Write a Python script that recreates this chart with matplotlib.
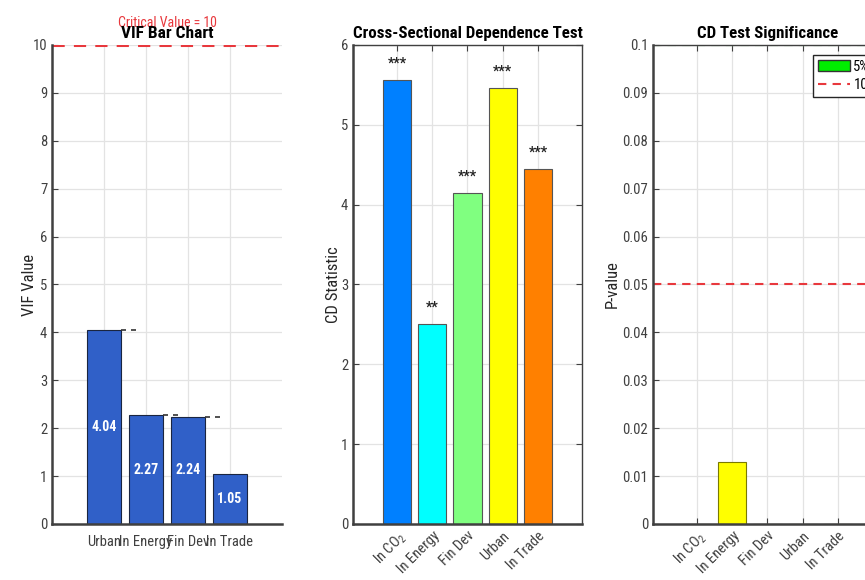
import matplotlib
matplotlib.use("Agg")
import matplotlib.pyplot as plt
from matplotlib import font_manager
from matplotlib.patches import Patch
from matplotlib.lines import Line2D

# the reference text is a condensed Helvetica-like face; take a narrow one if present
cands = ["Liberation Sans Narrow", "Arial Narrow", "Roboto Condensed", "Archivo Narrow",
         "PT Sans Narrow", "Fira Sans Condensed", "IBM Plex Sans Condensed",
         "Encode Sans Condensed", "Barlow Semi Condensed", "Asap Condensed",
         "Sofia Sans Condensed", "Open Sans Condensed"]
weights = {}
for f in font_manager.fontManager.ttflist:
    w = f.weight if isinstance(f.weight, int) else font_manager.weight_dict.get(f.weight, 400)
    weights.setdefault(f.name, set()).add(w)


def pick(bold):
    for c in cands:
        if c in weights:
            if not bold or max(weights[c]) >= 700:
                return c
    return "Liberation Sans"


fam = pick(False)
bfam = pick(True)
plt.rcParams['font.family'] = [fam, 'DejaVu Sans']
plt.rcParams['mathtext.default'] = 'regular'

# ---- data ----
vif_vars = ["Urban", "ln Energy", "Fin Dev", "ln Trade"]
vif_vals = [4.04, 2.27, 2.24, 1.05]
vif_critical = 10

cd_vars = ["ln CO$_2$", "ln Energy", "Fin Dev", "Urban", "ln Trade"]
cd_stats = [5.56, 2.50, 4.14, 5.46, 4.45]
cd_stars = ["***", "**", "***", "***", "***"]
cd_colors = ["#0080ff", "#00ffff", "#80ff80", "#ffff00", "#ff8000"]

p_values = [0.0, 0.013, 0.0, 0.0, 0.0]
sig_5 = 0.05
sig_10 = 0.1

tick_col = "#404040"
grid_col = "#e3e3e3"
bold = dict(family=[bfam, 'DejaVu Sans'], fontweight='bold')

fig = plt.figure(figsize=(8.65, 5.8), dpi=100)


def style(ax, box=True):
    ax.grid(True, color=grid_col, linewidth=0.9)
    ax.set_axisbelow(True)
    ax.tick_params(direction='in', colors=tick_col, labelsize=10.5, length=4,
                   top=box, right=box, labelcolor=tick_col)
    for s in ax.spines.values():
        s.set_color("#404040")
        s.set_linewidth(1.0)
    ax.spines['left'].set_linewidth(1.8)
    ax.spines['bottom'].set_linewidth(1.8)
    if not box:
        ax.spines['top'].set_visible(False)
        ax.spines['right'].set_visible(False)


# ---- VIF bar chart ----
ax1 = fig.add_axes([0.0601, 0.0966, 0.2659, 0.8259])
x1 = list(range(1, len(vif_vals) + 1))
ax1.bar(x1, vif_vals, width=0.8, color="#3060c8", edgecolor="#1a2540", linewidth=0.8)
for i, v in enumerate(vif_vals):
    ax1.text(x1[i], v / 2, f"{v:.2f}", color="white", ha='center', va='center',
             fontsize=10, **bold)
    if i < 3:
        ax1.plot([x1[i] + 0.4, x1[i] + 0.78], [v, v], color="#333333",
                 linestyle=(0, (3, 3)), linewidth=1.2)
ax1.axhline(vif_critical, color="#e8383d", linestyle=(0, (4, 3)), linewidth=2.2)
ax1.text(2.5, vif_critical + 0.32, f"Critical Value = {vif_critical}", color="#e8383d",
         ha='center', va='bottom', fontsize=10, clip_on=False)
ax1.set_xlim(-0.24, 5.24)
ax1.set_ylim(0, 10)
ax1.set_yticks(range(0, 11))
ax1.set_xticks(x1)
ax1.set_xticklabels(vif_vars)
style(ax1, box=False)
ax1.tick_params(axis='x', length=0, pad=8)
ax1.set_ylabel("VIF Value", fontsize=12, color="#262626", labelpad=-3)
ax1.set_title("VIF Bar Chart", fontsize=12.5, pad=5, **bold)

# ---- CD statistic ----
ax2 = fig.add_axes([0.4081, 0.0966, 0.2647, 0.8259])
x2 = list(range(1, len(cd_stats) + 1))
ax2.bar(x2, cd_stats, width=0.8, color=cd_colors, edgecolor="#555555", linewidth=0.8)
for i, v in enumerate(cd_stats):
    ax2.text(x2[i], v + 0.12, cd_stars[i], ha='center', va='bottom', fontsize=10,
             color="#222222", **bold)
ax2.set_xlim(-0.25, 6.25)
ax2.set_ylim(0, 6)
ax2.set_yticks(range(0, 7))
ax2.set_xticks(x2)
ax2.set_xticklabels(cd_vars, rotation=45, ha='right', rotation_mode='anchor')
style(ax2)
ax2.set_ylabel("CD Statistic", fontsize=12, color="#262626", labelpad=0)
ax2.set_title("Cross-Sectional Dependence Test", fontsize=12.2, pad=5, **bold)

# ---- CD p-values ----
ax3 = fig.add_axes([0.7549, 0.0966, 0.2647, 0.8259])
ax3.bar(x2, p_values, width=0.8, color="#ffff00", edgecolor="#7a7a00", linewidth=0.8)
ax3.axhline(sig_10, color="#22cc22", linestyle=(0, (4, 3)), linewidth=1.5)
ax3.axhline(sig_5, color="#e8383d", linestyle=(0, (4, 3)), linewidth=1.5)
ax3.set_xlim(-0.25, 6.25)
ax3.set_ylim(0, 0.1)
ax3.set_yticks([i / 100 for i in range(0, 11)])
ax3.set_yticklabels(["0"] + [f"{i / 100:.2f}" for i in range(1, 10)] + ["0.1"])
ax3.set_xticks(x2)
ax3.set_xticklabels(cd_vars, rotation=45, ha='right', rotation_mode='anchor')
style(ax3)
ax3.set_ylabel("P-value", fontsize=12, color="#262626", labelpad=1.5)
ax3.set_title("CD Test Significance", fontsize=12.2, pad=5, **bold)
handles = [Patch(facecolor="#00ee00", edgecolor="#333333", label="5%"),
           Line2D([0], [0], color="#e8383d", linestyle=(0, (4, 3)), linewidth=1.5, label="10%")]
leg = ax3.legend(handles=handles, loc='upper left', bbox_to_anchor=(0.70, 0.98),
                 fancybox=False, framealpha=1, edgecolor="#262626", fontsize=10.5,
                 handlelength=2.2, borderpad=0.35, labelspacing=0.3, handletextpad=0.2,
                 borderaxespad=0)
leg.get_frame().set_linewidth(1.0)

fig.savefig("out.png", dpi=100)
